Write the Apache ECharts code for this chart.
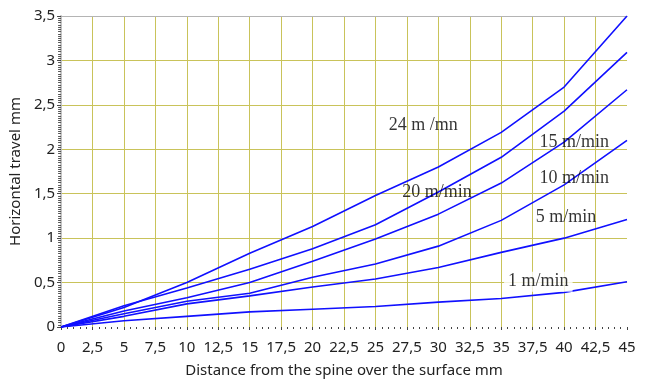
<!DOCTYPE html>
<html>
<head>
<meta charset="utf-8">
<script src="https://cdn.jsdelivr.net/npm/echarts@6/dist/echarts.min.js"></script>
<style>
  html, body { margin: 0; padding: 0; background: #fff; }
  #chart { width: 646px; height: 383px; }
</style>
</head>
<body>
<div id="chart"></div>
<script>
// Distance from the spine (mm) at which each curve was measured
const distance = [0, 5, 10, 15, 20, 25, 30, 35, 40, 45];

// Horizontal travel (mm) for each belt speed
const travel24 = [0, 0.22, 0.50, 0.83, 1.13, 1.48, 1.80, 2.19, 2.70, 3.50];
const travel20 = [0, 0.24, 0.44, 0.65, 0.88, 1.15, 1.52, 1.91, 2.43, 3.09];
const travel15 = [0, 0.18, 0.33, 0.50, 0.74, 0.99, 1.27, 1.62, 2.08, 2.67];
const travel10 = [0, 0.15, 0.29, 0.38, 0.56, 0.71, 0.91, 1.20, 1.60, 2.10];
const travel5  = [0, 0.12, 0.26, 0.35, 0.45, 0.54, 0.67, 0.84, 1.00, 1.21];
const travel1  = [0, 0.07, 0.12, 0.17, 0.20, 0.23, 0.28, 0.32, 0.39, 0.51];

const speedNames = ['24 m /mn', '20 m/min', '15 m/min', '10 m/min', '5 m/min', '1 m/min'];
const curves = [travel24, travel20, travel15, travel10, travel5, travel1];

// Where each speed caption sits, in axis units (distance, travel)
const captionAt = [
  [28.8, 2.27],
  [29.9, 1.52],
  [40.8, 2.08],
  [40.8, 1.67],
  [40.15, 1.24],
  [37.95, 0.51]
];

const axisFont = '"Noto Sans", "Open Sans", sans-serif';
const gridColor = '#c9c35a';
const lineBlue = '#1010ff';
const comma = v => String(v).replace('.', ',');

const lineSeries = curves.map((ys, i) => ({
  type: 'line',
  name: speedNames[i],
  data: distance.map((x, k) => [x, ys[k]]),
  showSymbol: false,
  symbol: 'none',
  lineStyle: { color: lineBlue, width: 1.6 },
  silent: true,
  z: 3
}));

// Speed captions; the slowest one is knocked out of the grid behind it
const captionSeries = {
  type: 'scatter',
  symbolSize: 0,
  silent: true,
  z: 5,
  data: captionAt.map((c, i) => ({
    value: [c[0], c[1]],
    name: speedNames[i],
    label: i === 5 ? { backgroundColor: '#fff', padding: [1, 4] } : {}
  })),
  label: {
    show: true,
    position: 'inside',
    formatter: p => p.name,
    fontFamily: '"Liberation Serif", "Times New Roman", serif',
    fontSize: 18,
    color: '#000'
  }
};

const chart = echarts.init(document.getElementById('chart'), null, { renderer: 'canvas' });
chart.setOption({
  animation: false,
  backgroundColor: '#fff',
  grid: { left: 61, top: 16, right: 19, bottom: 53, containLabel: false },
  xAxis: [{
    type: 'value',
    min: 0, max: 45, interval: 2.5,
    name: 'Distance from the spine over the surface mm',
    nameLocation: 'middle',
    nameGap: 36,
    nameTextStyle: { fontFamily: axisFont, fontSize: 15, color: '#222' },
    axisLine: { show: false },
    axisTick: { show: true, length: 3, lineStyle: { color: '#444', width: 1 } },
    minorTick: { show: true, splitNumber: 5, length: 2, lineStyle: { color: '#444', width: 1 } },
    axisLabel: { fontFamily: axisFont, fontSize: 15, color: '#222', margin: 13, formatter: comma },
    splitLine: { show: true, showMinLine: false, showMaxLine: false, lineStyle: { color: gridColor, width: 1 } }
  }, {
    type: 'value',
    position: 'top',
    min: 0, max: 45,
    axisLine: { show: true, lineStyle: { color: '#b4b4b4', width: 1 } },
    axisTick: { show: false },
    axisLabel: { show: false },
    splitLine: { show: false }
  }],
  yAxis: {
    type: 'value',
    min: 0, max: 3.5, interval: 0.5,
    name: 'Horizontal travel mm',
    nameLocation: 'middle',
    nameGap: 27,
    nameTextStyle: { fontFamily: axisFont, fontSize: 15, color: '#222' },
    axisLine: { show: true, lineStyle: { color: '#c4c4c4', width: 2 } },
    axisTick: { show: true, length: 4, lineStyle: { color: '#444', width: 1 } },
    minorTick: { show: true, splitNumber: 20, length: 3, lineStyle: { color: '#555', width: 1 } },
    axisLabel: { fontFamily: axisFont, fontSize: 15, color: '#222', margin: 6, formatter: comma },
    splitLine: { show: true, showMinLine: false, showMaxLine: false, lineStyle: { color: gridColor, width: 1 } }
  },
  series: [...lineSeries, captionSeries]
});
</script>
</body>
</html>
